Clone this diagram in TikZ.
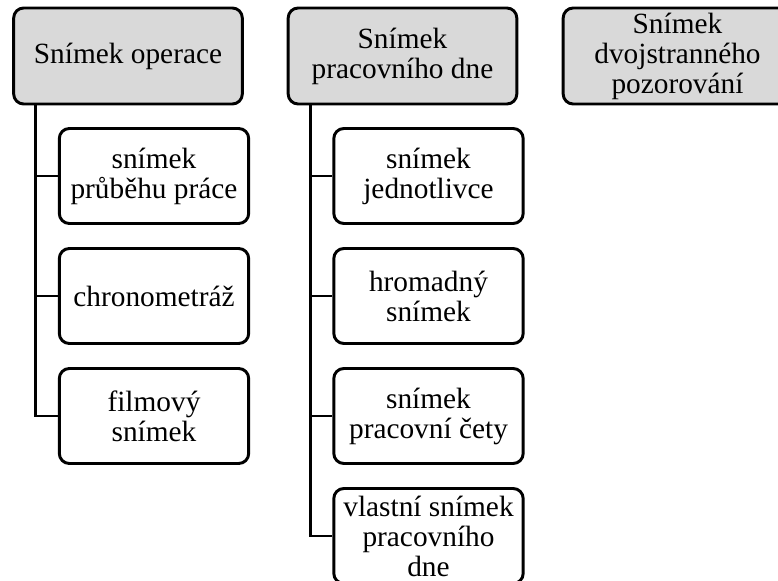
\documentclass[tikz,border=0pt]{standalone}
\usepackage{fontspec}
\setmainfont{Liberation Serif}
\usetikzlibrary{trees}

\begin{document}
\begin{tikzpicture}[
  x=0.75pt, y=-0.75pt,
  grow via three points={one child at (26,120) and two children at (26,120) and (26,240)},
  every node/.style={draw,line width=2.2pt,rounded corners=7.5pt,align=center,
    inner sep=1pt,font=\fontsize{22}{22.5}\selectfont},
  head/.style={fill=black!15,minimum width=171.5pt,minimum height=72pt},
  leaf/.style={fill=white,minimum width=142pt,minimum height=71.25pt},
  edge from parent/.style={draw,line width=2.2pt},
  edge from parent path={
    ([xshift=17.5pt]\tikzparentnode.south west) |- (\tikzchildnode.west)
  }
]
  \useasboundingbox (0,0) rectangle (778,581);
  \clip (0,0) rectangle (778,581);

  \node[head] (op) at (128,56) {Sn\'imek operace}
    child {node[leaf] (op1) {sn\'imek\\pr\r{u}b\v{e}hu pr\'ace}}
    child {node[leaf] (op2) {chronometr\'a\v{z}}}
    child {node[leaf] (op3) {filmov\'y\\sn\'imek}};

  \node[head] (pd) at (402.5,56) {Sn\'imek\\pracovn\'iho dne}
    child {node[leaf] (pd1) {sn\'imek\\jednotlivce}}
    child {node[leaf] (pd2) {hromadn\'y\\sn\'imek}}
    child {node[leaf] (pd3) {sn\'imek\\pracovn\'i \v{c}ety}}
    child {node[leaf] (pd4) {vlastn\'i sn\'imek\\pracovn\'iho\\dne}};

  \node[head] (dp) at (677.5,56) {Sn\'imek\\dvojstrann\'eho\\pozorov\'an\'i};
\end{tikzpicture}
\end{document}
